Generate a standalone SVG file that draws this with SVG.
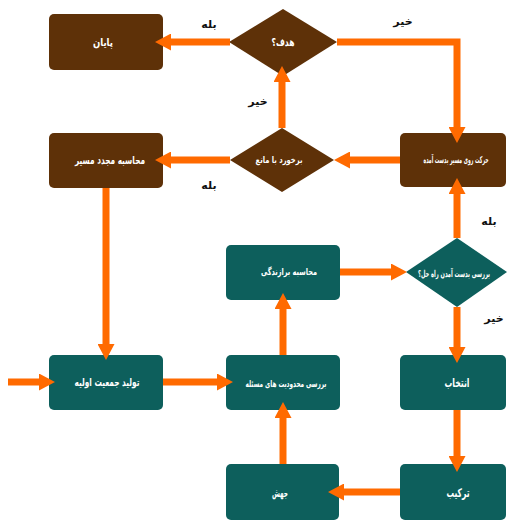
<svg xmlns="http://www.w3.org/2000/svg" width="508" height="521" viewBox="0 0 508 521">
<style>
.b{fill:#5E3108}
.t{fill:#0D5F5C}
.n{font-family:"DejaVu Sans","Noto Sans",sans-serif;font-weight:bold;fill:#fff;text-anchor:middle;dominant-baseline:central}
.l{font-family:"DejaVu Sans","Noto Sans",sans-serif;font-weight:bold;fill:#111;font-size:11px;text-anchor:middle;dominant-baseline:central}
.c{fill:none;stroke:#FF6A00;stroke-width:7;marker-end:url(#ah)}
</style>
<defs>
<marker id="ah" markerUnits="userSpaceOnUse" markerWidth="16" markerHeight="17" refX="4" refY="8.5" orient="auto">
<path d="M0,0 L16,8.5 L0,17 z" fill="#FF6A00"/>
</marker>
</defs>
<rect width="508" height="521" fill="#fff"/>
<g id="end"><rect class="b" x="49" y="14" width="114" height="56" rx="5"/><text class="n" x="103" y="42" font-size="11" textLength="20" lengthAdjust="spacingAndGlyphs">پایان</text></g>
<g id="goal"><polygon class="b" points="283,9 337,42 283,76 229,42"/><text class="n" x="283" y="42" font-size="11" textLength="23" lengthAdjust="spacingAndGlyphs">هدف؟</text></g>
<g id="recalc"><rect class="b" x="49" y="133" width="114" height="55" rx="5"/><text class="n" x="110" y="160" font-size="11" textLength="70" lengthAdjust="spacingAndGlyphs">محاسبه مجدد مسیر</text></g>
<g id="obstacle"><polygon class="b" points="282,128 334,160 282,192 230,160"/><text class="n" x="279" y="160" font-size="9" textLength="47" lengthAdjust="spacingAndGlyphs">برخورد با مانع</text></g>
<g id="move"><rect class="b" x="400" y="133" width="106" height="54" rx="5"/><text class="n" transform="translate(456,160) scale(0.48,1)" x="0" y="0" font-size="9.5">حرکت روی مسیر بدست آمده</text></g>
<g id="fitness"><rect class="t" x="226" y="245" width="114" height="55" rx="5"/><text class="n" x="289" y="271" font-size="9.5" textLength="56" lengthAdjust="spacingAndGlyphs">محاسبه برازندگی</text></g>
<g id="check"><polygon class="t" points="457,238 507,272 457,307 406,272"/><text class="n" transform="translate(454,274) scale(0.54,1)" x="0" y="0" font-size="9.5">بررسی بدست آمدن راه حل؟</text></g>
<g id="init"><rect class="t" x="49" y="355" width="114" height="55" rx="5"/><text class="n" x="107" y="382" font-size="11" textLength="65" lengthAdjust="spacingAndGlyphs">تولید جمعیت اولیه</text></g>
<g id="constraints"><rect class="t" x="226" y="355" width="114" height="55" rx="5"/><text class="n" x="286" y="383" font-size="9.5" textLength="81" lengthAdjust="spacingAndGlyphs">بررسی محدودیت های مسئله</text></g>
<g id="select"><rect class="t" x="400" y="355" width="106" height="55" rx="5"/><text class="n" x="457" y="383" font-size="12" textLength="25" lengthAdjust="spacingAndGlyphs">انتخاب</text></g>
<g id="mutation"><rect class="t" x="226" y="464" width="113" height="56" rx="5"/><text class="n" x="280" y="493" font-size="11" textLength="16" lengthAdjust="spacingAndGlyphs">جهش</text></g>
<g id="crossover"><rect class="t" x="400" y="464" width="106" height="56" rx="5"/><text class="n" x="458" y="493" font-size="12" textLength="23" lengthAdjust="spacingAndGlyphs">ترکیب</text></g>
<g id="connectors">
<path class="c" d="M230,42 H167"/>
<path class="c" d="M337,42 H457 V131"/>
<path class="c" d="M400,160 H346"/>
<path class="c" d="M282,128 V78"/>
<path class="c" d="M230,160 H167"/>
<path class="c" d="M106,188 V348"/>
<path class="c" d="M8,382 H43"/>
<path class="c" d="M163,382 H221"/>
<path class="c" d="M283,355 V305"/>
<path class="c" d="M340,272 H395"/>
<path class="c" d="M457,238 V190"/>
<path class="c" d="M457,307 V351"/>
<path class="c" d="M457,410 V460"/>
<path class="c" d="M400,492 H340"/>
<path class="c" d="M283,464 V414"/>
</g>
<g id="labels">
<text class="l" x="209" y="24">بله</text>
<text class="l" x="403" y="21">خیر</text>
<text class="l" x="258" y="101">خیر</text>
<text class="l" x="209" y="185">بله</text>
<text class="l" x="489" y="221">بله</text>
<text class="l" x="494" y="318">خیر</text>
</g>
</svg>
